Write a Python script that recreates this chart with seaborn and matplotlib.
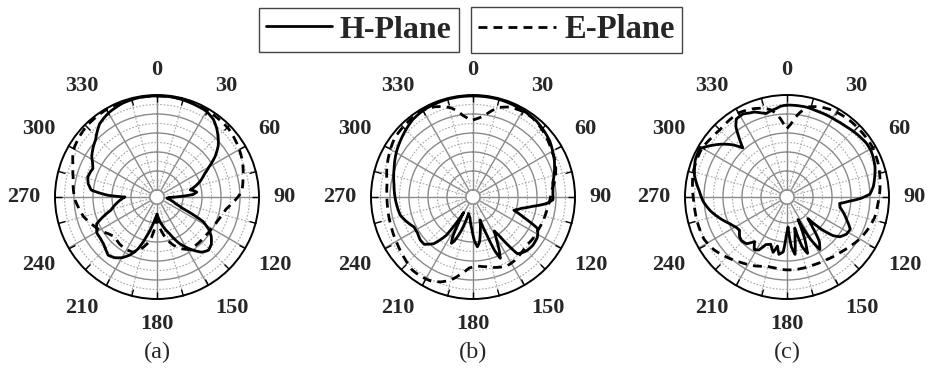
import numpy as np
import pandas as pd
import matplotlib
matplotlib.use("Agg")
import matplotlib.pyplot as plt
import seaborn as sns
from matplotlib.lines import Line2D

sns.set_style("white")
plt.rcParams['font.family'] = ['Liberation Serif', 'DejaVu Serif']

# ---------------- data (normalized gain, dB) ----------------
a_h_ang = [0, 10, 20, 30, 36, 41, 46, 50, 55, 60, 64, 70, 74, 78, 80, 83, 86, 89, 92, 97, 104, 110, 114, 116, 118,
           122, 126, 131, 136, 141, 146, 150, 154, 161, 170, 176, 180, 185, 190, 195, 200, 205, 210, 215, 220, 225,
           229, 234, 239, 246, 254, 262, 270, 272, 276, 281, 286, 291, 294, 298, 302, 308, 313, 318, 322, 330, 340,
           350, 360]
a_h_db = [-0.5, -0.5, -1.1, -1.6, -3.2, -5.8, -8.9, -11.6, -16.3, -22.1, -25.8, -29.5, -32.6, -35.8, -34.2, -32.6,
          -34.7, -42.1, -47.4, -48.4, -45.8, -43.2, -38.9, -32.6, -26.3, -21.6, -18.4, -15.8, -14.7, -16.3, -20.0,
          -23.2, -26.3, -33.2, -38.9, -42.6, -44.7, -42.1, -37.9, -32.1, -24.7, -20.0, -16.8, -14.7, -13.7, -15.3,
          -16.3, -16.8, -16.8, -18.9, -28.4, -32.6, -36.8, -27.9, -18.9, -16.8, -15.8, -16.3, -16.8, -15.3, -13.2,
          -11.1, -9.5, -6.8, -4.7, -2.6, -1.1, -0.5, -0.5]
a_e_ang = [0, 15, 30, 46, 53, 60, 66, 71, 78, 86, 90, 95, 100, 106, 112, 120, 130, 140, 148, 155, 161, 168, 174,
           178, 180, 183, 189, 196, 203, 211, 219, 227, 233, 240, 248, 255, 262, 268, 275, 283, 291, 299, 307, 315,
           330, 345, 360]
a_e_db = [-0.5, -0.5, -1.1, -1.6, -2.6, -3.7, -4.7, -5.8, -7.4, -8.9, -11.1, -14.2, -16.8, -18.4, -19.5, -20.5,
          -21.1, -21.1, -21.1, -23.7, -26.8, -31.6, -36.8, -41.1, -42.1, -38.9, -30.5, -25.8, -22.1, -21.6, -22.1,
          -23.2, -21.6, -18.9, -16.3, -13.7, -12.1, -10.5, -9.5, -8.4, -6.3, -3.2, -2.1, -1.1, -0.5, -0.5, -0.5]

b_h_ang = [0, 15, 31, 40, 47, 54, 60, 66, 73, 80, 87, 92, 95, 99, 103, 108, 112, 116, 122, 129, 135, 139, 142,
           144, 146, 148, 151, 154, 156, 158, 160, 163, 168, 172, 175, 178, 182, 188, 195, 199, 203, 205, 207, 209,
           211, 213, 215, 220, 226, 231, 237, 243, 250, 256, 265, 279, 290, 301, 308, 315, 322, 330, 345, 360]
b_h_db = [-0.5, -0.5, -1.1, -1.6, -2.6, -3.7, -5.3, -6.8, -8.9, -11.1, -11.6, -11.6, -14.7, -22.1, -27.4, -31.1,
          -24.7, -15.8, -13.7, -13.2, -13.7, -14.7, -15.8, -22.6, -29.5, -32.6, -28.4, -22.1, -18.4, -23.2, -32.6,
          -41.1, -35.3, -29.5, -27.4, -30.5, -36.8, -42.6, -44.7, -35.3, -28.4, -26.8, -30.0, -37.9, -44.2, -36.8,
          -28.9, -21.6, -17.9, -17.9, -18.9, -18.9, -16.3, -14.2, -13.2, -11.6, -9.5, -6.8, -5.3, -3.7, -2.1, -1.1,
          -0.5, -0.5]
b_e_ang = [0, 4, 8, 12, 16, 22, 30, 37, 44, 50, 55, 60, 66, 72, 78, 85, 92, 100, 108, 117, 125, 132, 140, 147,
           154, 162, 169, 177, 183, 189, 195, 201, 207, 214, 220, 228, 238, 250, 261, 270, 279, 289, 299, 307, 315,
           323, 331, 337, 342, 346, 350, 353, 356, 360]
b_e_db = [-13.2, -12.1, -10.5, -7.4, -4.7, -2.6, -1.6, -1.6, -2.6, -3.7, -4.7, -5.8, -6.3, -7.9, -9.5, -12.1,
          -13.2, -14.2, -14.7, -15.3, -15.3, -15.8, -14.7, -13.7, -13.2, -14.7, -16.3, -17.4, -16.3, -12.6, -8.4,
          -5.8, -4.2, -3.7, -3.7, -5.3, -6.8, -7.9, -8.4, -8.4, -7.9, -5.8, -3.7, -2.1, -1.6, -1.1, -1.1, -2.1,
          -3.7, -5.3, -7.9, -10.5, -12.1, -13.2]

c_h_ang = [0, 6, 12, 19, 26, 33, 40, 48, 56, 61, 65, 71, 77, 83, 88, 91, 94, 97, 101, 106, 111, 117, 122, 127,
           130, 133, 136, 140, 144, 148, 151, 154, 157, 160, 163, 166, 169, 172, 175, 178, 181, 184, 188, 191, 194,
           199, 204, 208, 212, 216, 221, 226, 230, 235, 239, 245, 250, 255, 260, 267, 274, 283, 292, 299, 304, 309,
           314, 318, 321, 324, 327, 332, 336, 339, 343, 346, 350, 353, 356, 360]
c_h_db = [-5.3, -5.3, -5.3, -5.8, -5.8, -5.8, -5.3, -4.2, -3.2, -3.2, -3.7, -4.7, -6.3, -7.9, -10.0, -14.7, -21.1,
          -25.8, -25.3, -22.6, -20.0, -16.3, -16.8, -18.9, -22.1, -28.4, -37.9, -32.6, -24.7, -21.1, -28.4, -40.5,
          -30.0, -22.1, -26.3, -36.8, -31.6, -23.2, -27.4, -37.9, -33.7, -24.7, -23.2, -27.4, -23.7, -27.4, -26.3,
          -22.1, -21.1, -24.7, -21.1, -20.5, -21.1, -23.2, -22.6, -20.5, -17.9, -15.3, -12.6, -9.5, -7.4, -3.7,
          -1.6, -1.1, -5.3, -9.5, -14.2, -18.9, -13.7, -7.9, -4.7, -4.2, -5.3, -5.8, -7.4, -8.4, -7.4, -6.8, -5.8,
          -5.3]
c_e_ang = [0, 3, 6, 9, 14, 20, 28, 38, 50, 60, 70, 78, 86, 95, 103, 112, 120, 128, 136, 148, 158, 168, 180, 190,
           196, 205, 215, 225, 234, 243, 255, 266, 276, 285, 300, 308, 315, 322, 330, 338, 345, 349, 352, 355, 357,
           360]
c_e_db = [-17.7, -15.3, -11.6, -8.4, -4.7, -3.2, -2.1, -1.6, -1.6, -1.6, -2.6, -3.7, -4.7, -5.8, -6.3, -7.9, -9.5,
          -11.6, -13.2, -14.7, -15.3, -15.3, -15.3, -15.8, -15.8, -13.7, -11.6, -8.9, -6.3, -4.7, -4.7, -4.7, -3.7,
          -2.6, -2.1, -3.2, -3.7, -3.2, -2.6, -3.7, -5.3, -6.8, -8.9, -12.1, -14.7, -17.7]

angle_ticks = [0, 30, 60, 90, 120, 150, 180, 210, 240, 270, 300, 330]
tick_labels = ['0', '30', '60', '90', '120', '150', '180', '210', '240', '270', '300', '330']
panel_names = ['(a)', '(b)', '(c)']
legend_names = ['H-Plane', 'E-Plane']

panels = [
    (a_h_ang, a_h_db, a_e_ang, a_e_db),
    (b_h_ang, b_h_db, b_e_ang, b_e_db),
    (c_h_ang, c_h_db, c_e_ang, c_e_db),
]

# ---------------- figure ----------------
W, H = 927, 379
fig = plt.figure(figsize=(W / 100, H / 100), dpi=100)

centers = [(157, 197), (473, 197), (787, 197)]
R = 102

RMIN, RMAX = -50, 0
E_DASH = (0, (3.2, 2.2))
LABEL_R = 7.8   # label anchor radius (dB units, beyond the outer ring)

for (hx, hy, ex, ey), (cx, cy), name in zip(panels, centers, panel_names):
    ax = fig.add_axes([(cx - R) / W, 1 - (cy + R) / H, 2 * R / W, 2 * R / H], projection='polar')
    ax.set_theta_zero_location('N')
    ax.set_theta_direction(-1)
    ax.set_ylim(RMIN, RMAX)
    ax.set_rorigin(-53.7)

    # radial grid: solid every 10 dB, dotted every 5 dB
    rt = np.arange(-45, 0, 5)
    ax.set_yticks(rt)
    ax.set_yticklabels([])
    for val, gl in zip(rt, ax.yaxis.get_gridlines()):
        if val % 10 == 0:
            gl.set_linestyle('-'); gl.set_color('#8a8a8a'); gl.set_linewidth(1.0)
        else:
            gl.set_linestyle((0, (1.5, 1.5))); gl.set_color('#a8a8a8'); gl.set_linewidth(0.8)

    # angular grid: solid every 30 deg, dotted every 15 deg
    th = np.arange(0, 360, 15)
    ax.set_xticks(np.deg2rad(th))
    ax.set_xticklabels([])
    for val, gl in zip(th, ax.xaxis.get_gridlines()):
        if val % 30 == 0:
            gl.set_linestyle('-'); gl.set_color('#8a8a8a'); gl.set_linewidth(1.0)
        else:
            gl.set_linestyle((0, (1.5, 1.5))); gl.set_color('#a8a8a8'); gl.set_linewidth(0.8)
    ax.grid(True)
    ax.tick_params(axis='x', which='major', bottom=False, top=True, length=5, width=1.0,
                   color='black', direction='in')
    ax.spines['polar'].set_color('black')
    ax.spines['polar'].set_linewidth(1.4)
    ax.spines['inner'].set_color('#8a8a8a')
    ax.spines['inner'].set_linewidth(1.0)

    # angle labels, anchored at their inner corner like the reference
    for ang, lab in zip(angle_ticks, tick_labels):
        if ang in (0, 180):
            ha = 'center'
        elif ang < 180:
            ha = 'left'
        else:
            ha = 'right'
        if ang in (90, 270):
            va = 'center'
        elif ang < 90 or ang > 270:
            va = 'bottom'
        else:
            va = 'top'
        ax.text(np.deg2rad(ang), LABEL_R, lab, ha=ha, va=va, fontsize=16, fontweight='bold',
                clip_on=False)

    dfh = pd.DataFrame({'theta': np.deg2rad(hx), 'gain': hy})
    dfe = pd.DataFrame({'theta': np.deg2rad(ex), 'gain': ey})
    sns.lineplot(data=dfe, x='theta', y='gain', ax=ax, sort=False, estimator=None,
                 color='black', linewidth=2.0, linestyle=E_DASH)
    sns.lineplot(data=dfh, x='theta', y='gain', ax=ax, sort=False, estimator=None,
                 color='black', linewidth=2.0)
    for ln in ax.lines:
        ln.get_path()._interpolation_steps = 12
    ax.set_xlabel(''); ax.set_ylabel('')
    ax.set_ylim(RMIN, RMAX)

    fig.text(cx / W, 1 - 352 / H, name, ha='center', va='center', fontsize=17.5)

# legends (two separate boxes)
h1 = Line2D([], [], color='black', linewidth=2.0)
h2 = Line2D([], [], color='black', linewidth=2.0, linestyle=E_DASH)
for h, lab, x, fs, hl in [(h1, legend_names[0], 359 / W, 23, 2.05),
                          (h2, legend_names[1], 576.5 / W, 23.5, 2.4)]:
    fig.legend([h], [lab], loc='center', bbox_to_anchor=(x, 1 - 30 / H), frameon=True, fancybox=False,
               edgecolor='#444444', framealpha=1,
               prop={'family': 'Liberation Serif', 'weight': 'bold', 'size': fs},
               handlelength=hl, handletextpad=0.25, borderpad=0.22, borderaxespad=0)

fig.savefig('out.png', dpi=100)
